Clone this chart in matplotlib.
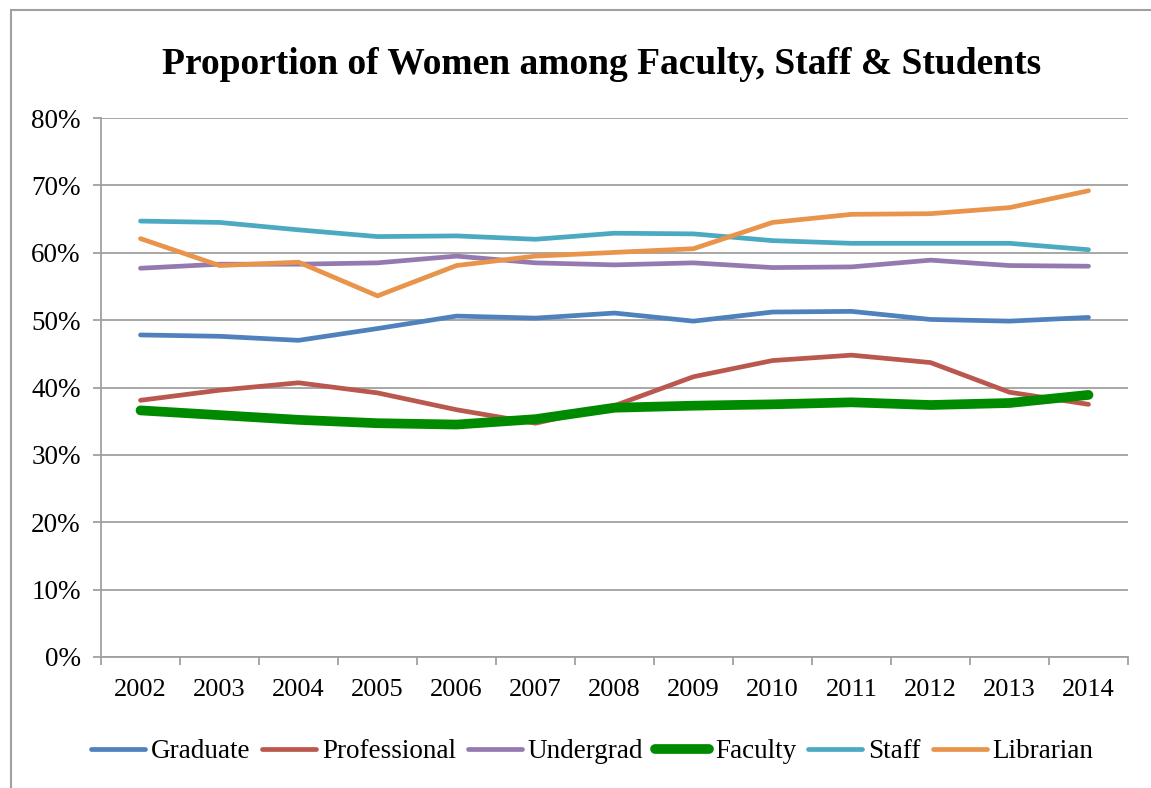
import matplotlib
matplotlib.use("Agg")
import matplotlib.pyplot as plt
from matplotlib.patches import Rectangle
from matplotlib.ticker import FixedLocator, FuncFormatter

years = ["2002", "2003", "2004", "2005", "2006", "2007", "2008",
         "2009", "2010", "2011", "2012", "2013", "2014"]
graduate = [47.8, 47.6, 47.0, 48.75, 50.6, 50.3, 51.05, 49.85, 51.2, 51.3, 50.1, 49.85, 50.4]
professional = [38.1, 39.6, 40.7, 39.2, 36.7, 34.7, 37.3, 41.6, 44.0, 44.8, 43.7, 39.3, 37.5]
undergrad = [57.7, 58.3, 58.3, 58.5, 59.5, 58.5, 58.2, 58.5, 57.8, 57.9, 58.9, 58.1, 58.0]
faculty = [36.6, 35.9, 35.2, 34.7, 34.5, 35.3, 37.0, 37.3, 37.5, 37.8, 37.4, 37.7, 38.9]
staff = [64.7, 64.5, 63.4, 62.4, 62.5, 62.0, 62.9, 62.8, 61.8, 61.4, 61.4, 61.4, 60.45]
librarian = [62.1, 58.1, 58.6, 53.6, 58.1, 59.5, 60.05, 60.6, 64.5, 65.7, 65.8, 66.7, 69.2]

series = [
    ("Graduate", graduate, "#4F81BD", 3.4),
    ("Professional", professional, "#BA5850", 3.4),
    ("Undergrad", undergrad, "#957AB1", 3.4),
    ("Faculty", faculty, "#008A00", 7.0),
    ("Staff", staff, "#4BA9C1", 3.4),
    ("Librarian", librarian, "#E8944A", 3.4),
]

plt.rcParams['font.family'] = ['Liberation Serif', 'DejaVu Serif']

fig = plt.figure(figsize=(11.51, 7.88), dpi=100)
fig.patch.set_facecolor("white")
ax = fig.add_axes([101/1151, 1-657/788, (1128-101)/1151, (657-118)/788])

x = list(range(len(years)))
for name, vals, color, lw in series:
    ax.plot(x, vals, color=color, lw=lw, label=name,
            solid_capstyle="round", solid_joinstyle="round")

ax.set_xlim(-0.5, len(years) - 0.5)
ax.set_ylim(0, 80)

grid_c = "#A0A0A0"
ax.set_yticks(range(0, 81, 10))
ax.yaxis.set_major_formatter(FuncFormatter(lambda v, p: f"{int(v)}%"))
ax.yaxis.grid(True, color=grid_c, lw=1.3)
ax.set_axisbelow(True)

ax.xaxis.set_major_locator(FixedLocator(x))
ax.set_xticklabels(years)
ax.xaxis.set_minor_locator(FixedLocator([i - 0.5 for i in range(len(years) + 1)]))
ax.tick_params(axis="x", which="major", length=0, pad=16, labelsize=19)
ax.tick_params(axis="x", which="minor", length=5.5, width=1.3, color=grid_c, direction="out")
ax.tick_params(axis="y", which="major", length=5.5, width=1.3, color=grid_c,
               pad=9, labelsize=19.5)

for s in ["top", "right"]:
    ax.spines[s].set_visible(False)
for s in ["left", "bottom"]:
    ax.spines[s].set_color(grid_c)
    ax.spines[s].set_linewidth(1.3)

fig.text(602/1151, 1-64/788, "Proportion of Women among Faculty, Staff & Students",
         ha="center", va="center", fontsize=27, fontweight="bold")

leg = fig.legend(loc="center", bbox_to_anchor=(592/1151, 1-752/788), ncol=6,
                 frameon=False, fontsize=19.5, handlelength=2.0, handletextpad=0.2,
                 columnspacing=0.45, borderaxespad=0)
for h in leg.get_lines():
    h.set_solid_capstyle("round")

fig.patches.append(Rectangle((11/1151, -0.1), 2, 1 - 10/788 + 0.1,
                             transform=fig.transFigure, fill=False,
                             edgecolor=grid_c, lw=1.5, clip_on=False))

fig.savefig("out.png", dpi=100, facecolor="white")
